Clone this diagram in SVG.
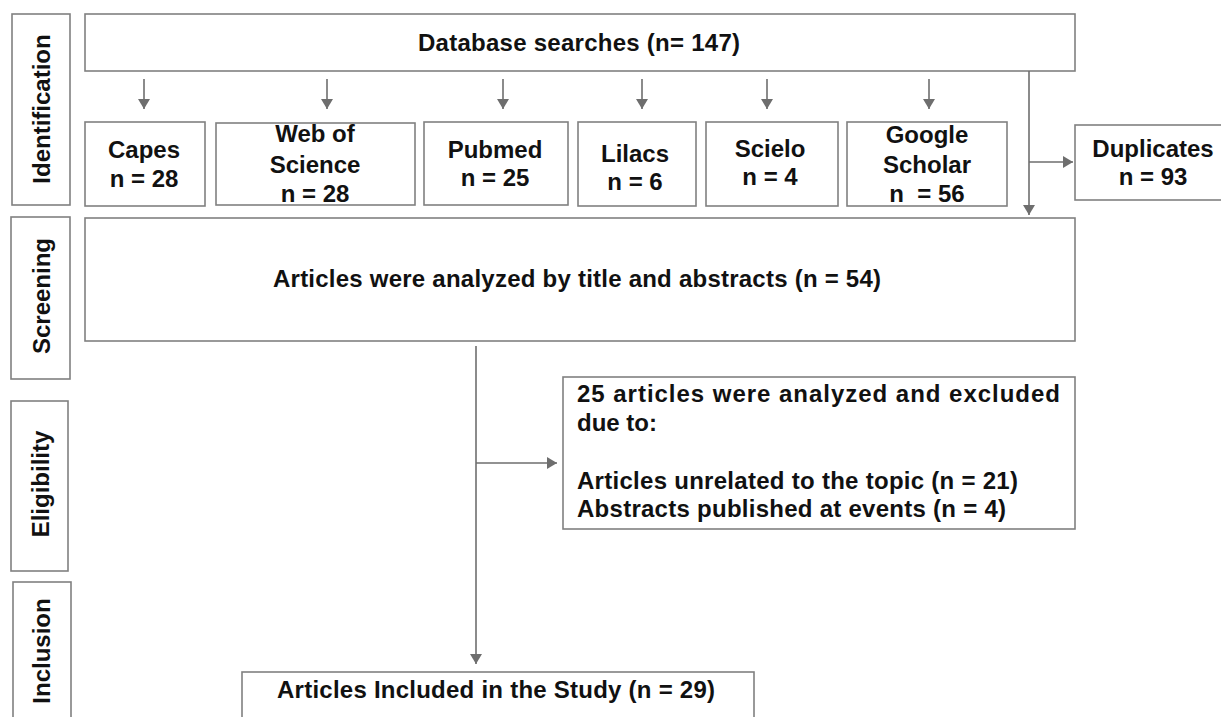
<svg xmlns="http://www.w3.org/2000/svg" width="1221" height="717" viewBox="0 0 1221 717">
<style>
  .box { fill: #ffffff; stroke: #808080; stroke-width: 1.6; }
  .t { font-family: "Liberation Sans", Arial, sans-serif; font-weight: bold; font-size: 24px; fill: #111111; }
  .c { text-anchor: middle; }
  .conn { stroke: #6e6e6e; stroke-width: 1.6; fill: none; }
</style>
<defs>
  <marker id="arr" markerUnits="userSpaceOnUse" markerWidth="12" markerHeight="12" refX="10" refY="6" orient="auto">
    <path d="M0,0 L10,6 L0,12 z" fill="#6e6e6e"/>
  </marker>
</defs>
<rect width="1221" height="717" fill="#ffffff"/>

<g id="phase-identification">
  <rect class="box" x="12" y="14" width="58" height="191"/>
  <text class="t c" transform="translate(50,109) rotate(-90)">Identification</text>
</g>
<g id="phase-screening">
  <rect class="box" x="11" y="217" width="59" height="162"/>
  <text class="t c" transform="translate(50,296) rotate(-90)">Screening</text>
</g>
<g id="phase-eligibility">
  <rect class="box" x="11" y="401" width="57" height="170"/>
  <text class="t c" transform="translate(49,484) rotate(-90)">Eligibility</text>
</g>
<g id="phase-inclusion">
  <rect class="box" x="13" y="582" width="58" height="150"/>
  <text class="t c" transform="translate(50,651) rotate(-90)">Inclusion</text>
</g>

<g id="database">
  <rect class="box" x="85" y="14" width="990" height="57"/>
  <text class="t c" x="579" y="51" textLength="322">Database searches (n= 147)</text>
</g>
<g id="capes">
  <rect class="box" x="85" y="122" width="120" height="84"/>
  <text class="t c" x="144" y="158">Capes</text>
  <text class="t c" x="144" y="187">n = 28</text>
</g>
<g id="wos">
  <rect class="box" x="216" y="123" width="199" height="82"/>
  <text class="t c" x="315" y="142">Web of</text>
  <text class="t c" x="315" y="173">Science</text>
  <text class="t c" x="315" y="202">n = 28</text>
</g>
<g id="pubmed">
  <rect class="box" x="424" y="122" width="144" height="83"/>
  <text class="t c" x="495" y="158">Pubmed</text>
  <text class="t c" x="495" y="186">n = 25</text>
</g>
<g id="lilacs">
  <rect class="box" x="578" y="122" width="118" height="84"/>
  <text class="t c" x="635" y="162">Lilacs</text>
  <text class="t c" x="635" y="190">n = 6</text>
</g>
<g id="scielo">
  <rect class="box" x="706" y="122" width="132" height="84"/>
  <text class="t c" x="770" y="157">Scielo</text>
  <text class="t c" x="770" y="185">n = 4</text>
</g>
<g id="scholar">
  <rect class="box" x="847" y="122" width="160" height="84"/>
  <text class="t c" x="927" y="143">Google</text>
  <text class="t c" x="927" y="173">Scholar</text>
  <text class="t c" x="927" y="202" xml:space="preserve">n  = 56</text>
</g>
<g id="duplicates">
  <rect class="box" x="1075" y="125" width="160" height="75"/>
  <text class="t c" x="1153" y="157">Duplicates</text>
  <text class="t c" x="1153" y="185">n = 93</text>
</g>

<g id="screening">
  <rect class="box" x="85" y="218" width="990" height="123"/>
  <text class="t c" x="577" y="287" textLength="608">Articles were analyzed by title and abstracts (n = 54)</text>
</g>

<g id="excluded">
  <rect class="box" x="563" y="377" width="512" height="152"/>
  <text class="t" x="577" y="402" textLength="483">25 articles were analyzed and excluded</text>
  <text class="t" x="577" y="431">due to:</text>
  <text class="t" x="577" y="489" textLength="441">Articles unrelated to the topic (n = 21)</text>
  <text class="t" x="577" y="517" textLength="429">Abstracts published at events (n = 4)</text>
</g>

<g id="included">
  <rect class="box" x="242" y="672" width="512" height="60"/>
  <text class="t c" x="496" y="698" textLength="438">Articles Included in the Study (n = 29)</text>
</g>

<g id="connectors">
  <line class="conn" x1="144" y1="79" x2="144" y2="109" marker-end="url(#arr)"/>
  <line class="conn" x1="327" y1="79" x2="327" y2="109" marker-end="url(#arr)"/>
  <line class="conn" x1="503" y1="79" x2="503" y2="109" marker-end="url(#arr)"/>
  <line class="conn" x1="642" y1="79" x2="642" y2="109" marker-end="url(#arr)"/>
  <line class="conn" x1="767" y1="79" x2="767" y2="109" marker-end="url(#arr)"/>
  <line class="conn" x1="929" y1="79" x2="929" y2="109" marker-end="url(#arr)"/>
  <line class="conn" x1="1029" y1="71" x2="1029" y2="215" marker-end="url(#arr)"/>
  <line class="conn" x1="1029" y1="162" x2="1073" y2="162" marker-end="url(#arr)"/>
  <line class="conn" x1="476" y1="346" x2="476" y2="664" marker-end="url(#arr)"/>
  <line class="conn" x1="476" y1="463" x2="557" y2="463" marker-end="url(#arr)"/>
</g>
</svg>
